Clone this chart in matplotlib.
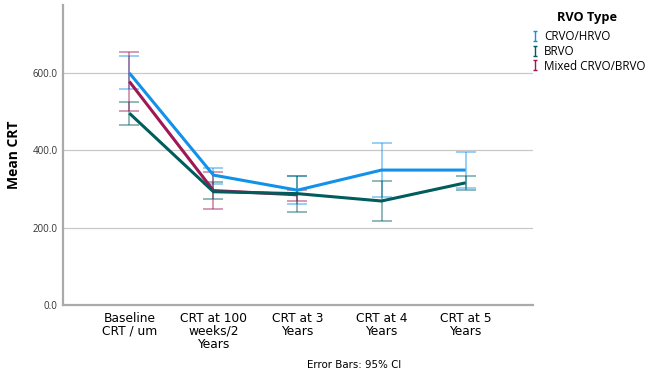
import numpy as np
import matplotlib.pyplot as plt
from matplotlib.lines import Line2D
from matplotlib.path import Path

plt.rcParams['font.family'] = ['Open Sans', 'DejaVu Sans']

# ------------------ data ------------------
categories = ["Baseline\nCRT / um", "CRT at 100\nweeks/2\nYears", "CRT at 3\nYears",
              "CRT at 4\nYears", "CRT at 5\nYears"]
series_names = ["CRVO/HRVO", "BRVO", "Mixed CRVO/BRVO"]
colors = ["#1192e8", "#005d5d", "#9f1853"]

crvo_mean = [600, 336, 297, 349, 349]
crvo_low = [559, 313, 261, 279, 303]
crvo_high = [644, 354, 333, 418, 395]

brvo_mean = [496, 293, 288, 269, 316]
brvo_low = [466, 274, 241, 217, 298]
brvo_high = [526, 319, 333, 322, 334]

mixed_mean = [578, 296, 285]
mixed_low = [503, 248, 269]
mixed_high = [653, 344, 298]

means = [crvo_mean, brvo_mean, mixed_mean]
lows = [crvo_low, brvo_low, mixed_low]
highs = [crvo_high, brvo_high, mixed_high]
yticks = [0, 200, 400, 600]
# -----------------------------------------

fig = plt.figure(figsize=(6.49, 3.78), dpi=100)
ax = fig.add_axes([0.097, 0.193, 0.724, 0.794])

for m, lo, hi, c in zip(means, lows, highs, colors):
    x = np.arange(len(m))
    m = np.array(m)
    yerr = [m - np.array(lo), np.array(hi) - m]
    ax.errorbar(x, m, yerr=yerr, fmt='none', ecolor=c, elinewidth=1.1,
                capsize=7.5, capthick=1.1, alpha=0.55, zorder=2)
for m, c in zip(means[::-1], colors[::-1]):
    ax.plot(np.arange(len(m)), m, color=c, lw=2.2, zorder=3,
            solid_capstyle='butt')

ax.set_xlim(-0.79, 4.8)
ax.set_ylim(0, 776)
ax.set_xticks(range(len(categories)))
ax.set_xticklabels(categories, fontsize=8.8, linespacing=1.0,
                   family=['DejaVu Sans'])
ax.set_yticks(yticks)
ax.set_yticklabels([f"{v:.1f}" for v in yticks], fontsize=7, color="#333333")
ax.tick_params(axis='both', length=0, pad=4)
ax.tick_params(axis='x', pad=5)
ax.grid(axis='y', color='#c8c8c8', lw=0.9)
ax.set_axisbelow(True)
for s in ['top', 'right']:
    ax.spines[s].set_visible(False)
for s in ['left', 'bottom']:
    ax.spines[s].set_color('#aaaaaa')
    ax.spines[s].set_linewidth(1.6)
ax.set_ylabel("Mean CRT", fontsize=10, fontweight='bold', labelpad=8)

# error-bar style "I" legend symbol
i_marker = Path([(-0.45, -1), (0.45, -1), (0, -1), (0, 1), (-0.45, 1), (0.45, 1)],
                [Path.MOVETO, Path.LINETO, Path.MOVETO, Path.LINETO,
                 Path.MOVETO, Path.LINETO])
handles = [Line2D([], [], ls='none', marker=i_marker, markersize=6.5,
                  markeredgewidth=1.0, color=c) for c in colors]
fig.legend(handles, series_names, loc='upper left',
           bbox_to_anchor=(0.819, 0.92), frameon=False, fontsize=8.4,
           handlelength=0.6, handletextpad=0.5, labelspacing=0.14,
           borderaxespad=0, borderpad=0)
fig.text(0.905, 0.955, "RVO Type", ha='center', va='center',
         fontsize=9.2, fontweight='bold')

fig.text(0.545, 0.027, "Error Bars: 95% CI", ha='center', fontsize=7.4,
         family=['DejaVu Sans'])

fig.savefig("out.png", dpi=100)
